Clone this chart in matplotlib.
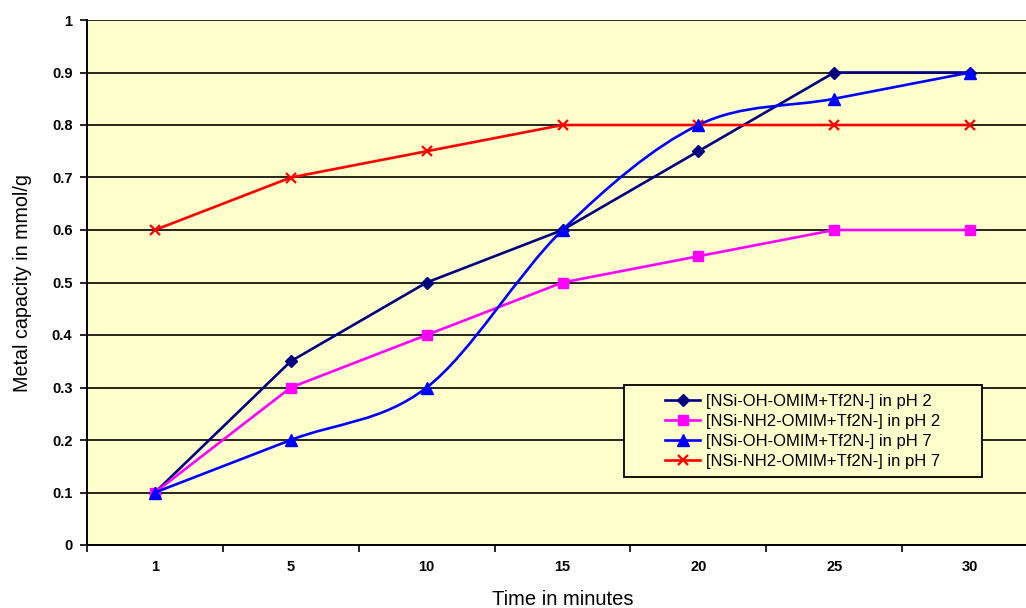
#!/usr/bin/env python3
# -*- coding: utf-8 -*-
"""Metal capacity vs time, four sorbents at pH 2 / pH 7 (Excel-style line chart)."""
import matplotlib
matplotlib.use('Agg')
import matplotlib.pyplot as plt
from matplotlib.path import Path
from matplotlib.patches import PathPatch, Rectangle
from matplotlib.lines import Line2D
import numpy as np

plt.rcParams['font.family'] = ['Liberation Sans', 'DejaVu Sans']

# data
times = ['1', '5', '10', '15', '20', '25', '30']
oh_ph2 = [0.10, 0.35, 0.50, 0.60, 0.75, 0.90, 0.90]
nh2_ph2 = [0.10, 0.30, 0.40, 0.50, 0.55, 0.60, 0.60]
oh_ph7 = [0.10, 0.20, 0.30, 0.60, 0.80, 0.85, 0.90]
nh2_ph7 = [0.60, 0.70, 0.75, 0.80, 0.80, 0.80, 0.80]
labels = ['[NSi-OH-OMIM+Tf2N-] in pH 2',
          '[NSi-NH2-OMIM+Tf2N-] in pH 2',
          '[NSi-OH-OMIM+Tf2N-] in pH 7',
          '[NSi-NH2-OMIM+Tf2N-] in pH 7']

BG = '#FFFFCC'


def smooth_path(x, y):
    """Excel-like smoothed line: cubic Bezier segments with Catmull-Rom tangents."""
    pts = np.column_stack([x, y]).astype(float)
    n = len(pts)
    verts = [pts[0]]
    codes = [Path.MOVETO]
    for i in range(n - 1):
        p0 = pts[i - 1] if i > 0 else pts[i]
        p1, p2 = pts[i], pts[i + 1]
        p3 = pts[i + 2] if i + 2 < n else pts[i + 1]
        c1 = p1 + (p2 - p0) / 6.0
        c2 = p2 - (p3 - p1) / 6.0
        verts += [c1, c2, p2]
        codes += [Path.CURVE4] * 3
    return Path(verts, codes)


fig = plt.figure(figsize=(10.26, 6.08), dpi=100)
ax = fig.add_axes([87 / 1026, 63 / 608, 951 / 1026, 525 / 608])
ax.set_facecolor(BG)

x = np.arange(len(times))
lw = 1.9
ax.plot(x, oh_ph2, '-', color='#000080', lw=lw, marker='D', ms=6, zorder=4)
ax.plot(x, nh2_ph2, '-', color='#FF00FF', lw=lw, marker='s', ms=7.5, zorder=4)
ax.add_patch(PathPatch(smooth_path(x, oh_ph7), facecolor='none', edgecolor='#0000FF',
                       lw=lw, zorder=4))
ax.plot(x, oh_ph7, ls='none', color='#0000FF', marker='^', ms=8, zorder=5)
ax.plot(x, nh2_ph7, '-', color='#FF0000', lw=lw, marker='x', ms=7, mew=1.6, zorder=4)

ax.set_xlim(-0.5, len(times) - 0.5)
ax.set_ylim(0, 1)
ax.set_yticks(np.arange(0, 1.01, 0.1))
ax.set_yticklabels(['0', '0.1', '0.2', '0.3', '0.4', '0.5', '0.6', '0.7', '0.8', '0.9', '1'])
ax.set_xticks(x)
ax.set_xticklabels(times)
ax.set_xticks(np.arange(-0.5, len(times), 1.0), minor=True)
ax.tick_params(axis='x', which='major', length=0, pad=11, labelsize=10.5)
ax.tick_params(axis='x', which='minor', length=5, width=1.2, direction='out')
ax.tick_params(axis='y', length=5, width=1.2, direction='out', labelsize=10.5, pad=5.5)
for t in ax.get_xticklabels() + ax.get_yticklabels():
    t.set_fontweight('bold')

ax.grid(True, axis='y', color='black', lw=1.2, zorder=1)
ax.set_axisbelow(True)
for s in ['top', 'right']:
    ax.spines[s].set_visible(False)
ax.spines['left'].set_linewidth(1.4)
ax.spines['bottom'].set_linewidth(1.4)

ax.set_xlabel('Time in minutes', fontsize=14.5)
ax.xaxis.set_label_coords(0.5, -0.085)
ax.set_ylabel('Metal capacity in mmol/g', fontsize=14.2)
ax.yaxis.set_label_coords(-0.058, 0.5)

# legend: frame box drawn separately, entries centred inside it
ax.add_patch(Rectangle((0.5647, 0.1295), 0.3764, 0.1753, transform=ax.transAxes,
                       facecolor=BG, edgecolor='black', lw=1.3, zorder=6))
handles = [
    Line2D([], [], color='#000080', lw=lw, marker='D', ms=6),
    Line2D([], [], color='#FF00FF', lw=lw, marker='s', ms=7.5),
    Line2D([], [], color='#0000FF', lw=lw, marker='^', ms=8),
    Line2D([], [], color='#FF0000', lw=lw, marker='x', ms=7, mew=1.6),
]
leg = ax.legend(handles, labels, loc='center', bbox_to_anchor=(0.7529, 0.217),
                fontsize=12, frameon=False, handlelength=2.1,
                labelspacing=0.3, borderpad=0, handletextpad=0.36, borderaxespad=0)
leg.set_zorder(7)

fig.savefig('out.png', dpi=100, facecolor='white')
